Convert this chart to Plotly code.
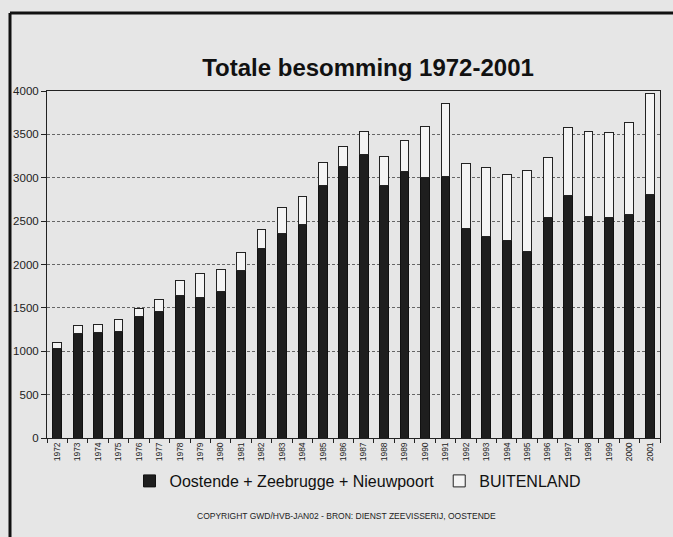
import plotly.graph_objects as go

years = [str(y) for y in range(1972, 2002)]
oostende = [1035, 1200, 1220, 1230, 1405, 1455, 1640, 1625, 1690, 1933,
            2180, 2355, 2460, 2908, 3130, 3265, 2905, 3070, 3005, 3015,
            2415, 2325, 2275, 2155, 2545, 2790, 2548, 2543, 2575, 2810]
buitenland = [70, 95, 92, 140, 90, 145, 172, 275, 255, 205,
              218, 303, 328, 267, 230, 265, 335, 358, 583, 840,
              745, 790, 760, 923, 688, 795, 984, 977, 1057, 1160]
y_ticks = [0, 500, 1000, 1500, 2000, 2500, 3000, 3500, 4000]

BG = "#e6e6e6"
FONT = "Liberation Sans, Arial, sans-serif"

fig = go.Figure()
fig.add_trace(go.Bar(
    x=years, y=oostende, name="Oostende + Zeebrugge + Nieuwpoort",
    marker=dict(color="#1e1e1e", line=dict(color="#111111", width=1)),
    width=0.43,
))
fig.add_trace(go.Bar(
    x=years, y=buitenland, name="BUITENLAND",
    marker=dict(color="#f4f4f4", line=dict(color="#222222", width=1)),
    width=0.43,
))

L, R, T, B = 47, 660, 91, 438
W, H = 673, 537
def px(x):
    return (x - L) / (R - L)
def py(y):
    return (B - y) / (B - T)

fig.update_layout(
    width=W, height=H,
    barmode="stack",
    bargap=0.5,
    paper_bgcolor=BG,
    plot_bgcolor=BG,
    margin=dict(l=L, r=W - R, t=T, b=H - B, pad=0, autoexpand=False),
    font=dict(family=FONT, color="#1a1a1a"),
    title=dict(
        text="<b>Totale besomming 1972-2001</b>",
        x=368 / W, xanchor="center", xref="container",
        y=1 - 68 / H, yanchor="middle", yref="container",
        font=dict(size=24, family=FONT, color="#111111"),
    ),
    showlegend=True,
    legend=dict(
        orientation="h",
        x=px(358), xanchor="center",
        y=py(481), yanchor="middle",
        font=dict(size=16, family=FONT, color="#111111"),
        bgcolor="rgba(0,0,0,0)",
        traceorder="normal",
        itemwidth=30,
    ),
    xaxis=dict(
        type="category",
        tickangle=-90,
        tickfont=dict(size=8.5, family=FONT, color="#222222"),
        ticks="outside", ticklen=4, tickcolor="#222222",
        tickson="boundaries",
        showline=True, linecolor="#222222", linewidth=1, mirror=True,
        showgrid=False,
    ),
    yaxis=dict(
        range=[0, 4000],
        tickvals=y_ticks,
        ticktext=[str(v) for v in y_ticks],
        tickfont=dict(size=11.5, family=FONT, color="#222222"),
        ticks="outside", ticklen=5, tickcolor="#222222",
        showline=True, linecolor="#222222", linewidth=1, mirror=True,
        showgrid=True, gridcolor="#666666", gridwidth=1, griddash="3px,2px",
        zeroline=False,
    ),
)

# outer frame of the scanned page: left and top edges only
fig.add_shape(type="line", xref="paper", yref="paper",
              x0=px(10), x1=px(10), y0=py(560), y1=py(13),
              line=dict(color="#111111", width=3), layer="below")
fig.add_shape(type="line", xref="paper", yref="paper",
              x0=px(10), x1=px(700), y0=py(13), y1=py(13),
              line=dict(color="#111111", width=3), layer="below")

fig.add_annotation(
    text="COPYRIGHT GWD/HVB-JAN02 - BRON: DIENST ZEEVISSERIJ, OOSTENDE",
    xref="paper", yref="paper", x=px(346), y=py(516),
    xanchor="center", yanchor="middle", showarrow=False,
    font=dict(size=8.5, family=FONT, color="#222222"),
)

fig.write_html("out.html", config={"displayModeBar": False},
               post_script="document.body.style.margin='0';")
